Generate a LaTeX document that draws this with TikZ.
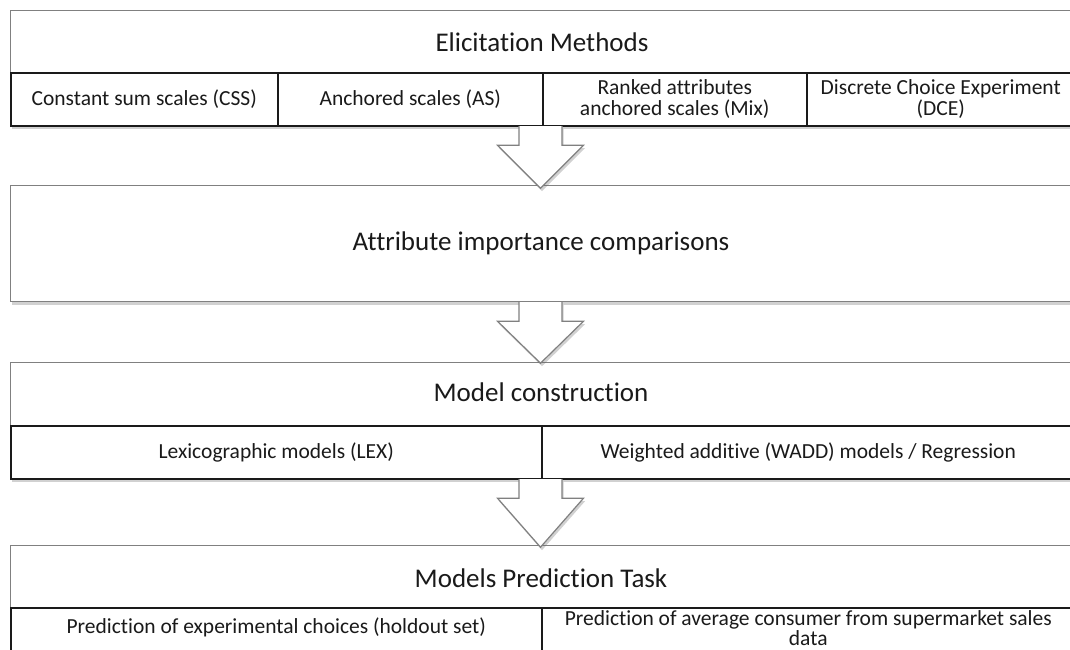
\documentclass[tikz,border=0pt]{standalone}
\usepackage{fontspec}
\setmainfont{Carlito}[Ligatures=NoCommon]
\usetikzlibrary{shadows,calc}
\definecolor{boxgray}{HTML}{808080}
\definecolor{ink}{HTML}{1A1A1A}
\begin{document}
\begin{tikzpicture}[x=1pt,y=-1pt,
  shadowed/.style={drop shadow={shadow xshift=1.5pt, shadow yshift=-3pt, opacity=0.3, fill=black!60}},
  outerbox/.style={draw=boxgray, line width=1.2pt, fill=white, shadowed, anchor=north west, inner sep=0pt, minimum width=1064pt},
  celltext/.style={align=center, text=ink, inner sep=0pt, font=\fontsize{21.5}{20.5}\selectfont},
  cellbox/.style={draw=ink, line width=1.5pt, fill=white, anchor=north west, inner sep=0pt, celltext},
  titletext/.style={text=ink, font=\fontsize{27}{30}\selectfont, inner sep=0pt},
  blockarrow/.style={draw=boxgray, line width=1.2pt, fill=white, line join=miter, shadowed}
]
\useasboundingbox (0,0) rectangle (1070,649);
\clip (0,0) rectangle (1070,649);

% ---- Box 1: Elicitation Methods
\node[outerbox, minimum height=115pt] (em) at (10,10) {};
\node[titletext] (emt) at (542,42) {Elicitation Methods};
\node[cellbox, minimum width=267pt, minimum height=53pt] (css) at (10,72) {Constant sum scales (CSS)};
\node[cellbox, minimum width=265pt, minimum height=53pt] (as) at (277,72) {Anchored scales (AS)};
\node[cellbox, minimum width=264pt, minimum height=53pt] (mix) at (542,72) {Ranked attributes\\anchored scales (Mix)};
\node[cellbox, minimum width=268pt, minimum height=53pt] (dce) at (806,72) {Discrete Choice Experiment\\(DCE)};

% ---- Box 2
\node[outerbox, minimum height=116pt] (aic) at (10,185) {};
\node[titletext] (aict) at (541,243) {Attribute importance comparisons};

% ---- Box 3
\node[outerbox, minimum height=116pt] (mc) at (10,362) {};
\node[titletext] (mct) at (541,392) {Model construction};
\node[cellbox, minimum width=531pt, minimum height=53pt] (lex) at (10,425) {Lexicographic models (LEX)};
\node[cellbox, minimum width=533pt, minimum height=53pt] (wadd) at (541,425) {Weighted additive (WADD) models / Regression};

% ---- Box 4
\node[outerbox, minimum height=160pt] (mp) at (10,545) {};
\node[titletext] (mpt) at (541,578) {Models Prediction Task};
\node[cellbox, minimum width=531pt, minimum height=60pt] (hold) at (10,607) {};
\node[cellbox, minimum width=533pt, minimum height=60pt] (sales) at (541,607) {};
\node[celltext] (holdt) at ($(hold.north)+(0,20)$) {Prediction of experimental choices (holdout set)};
\node[celltext] (salest) at ($(sales.north)+(0,21)$) {Prediction of average consumer from supermarket sales\\data};

% ---- Block arrows
\newcommand\downblock[2]{%
  \path[blockarrow] ($(#1)+(21.5,0)$) -- ($(#1)+(21.5,19)$) -- ($(#1)+(43,19)$) -- (#2)
    -- ($(#1)+(-43,19)$) -- ($(#1)+(-21.5,19)$) -- ($(#1)+(-21.5,0)$);}
\coordinate (a1s) at (em.south -| 540.5,0);
\coordinate (a1t) at ($(a1s)+(0,62)$);
\downblock{a1s}{a1t}
\coordinate (a2s) at (aic.south -| 540.5,0);
\coordinate (a2t) at ($(a2s)+(0,61)$);
\downblock{a2s}{a2t}
\coordinate (a3s) at (mc.south -| 540.5,0);
\coordinate (a3t) at ($(a3s)+(0,68)$);
\downblock{a3s}{a3t}
\end{tikzpicture}
\end{document}
